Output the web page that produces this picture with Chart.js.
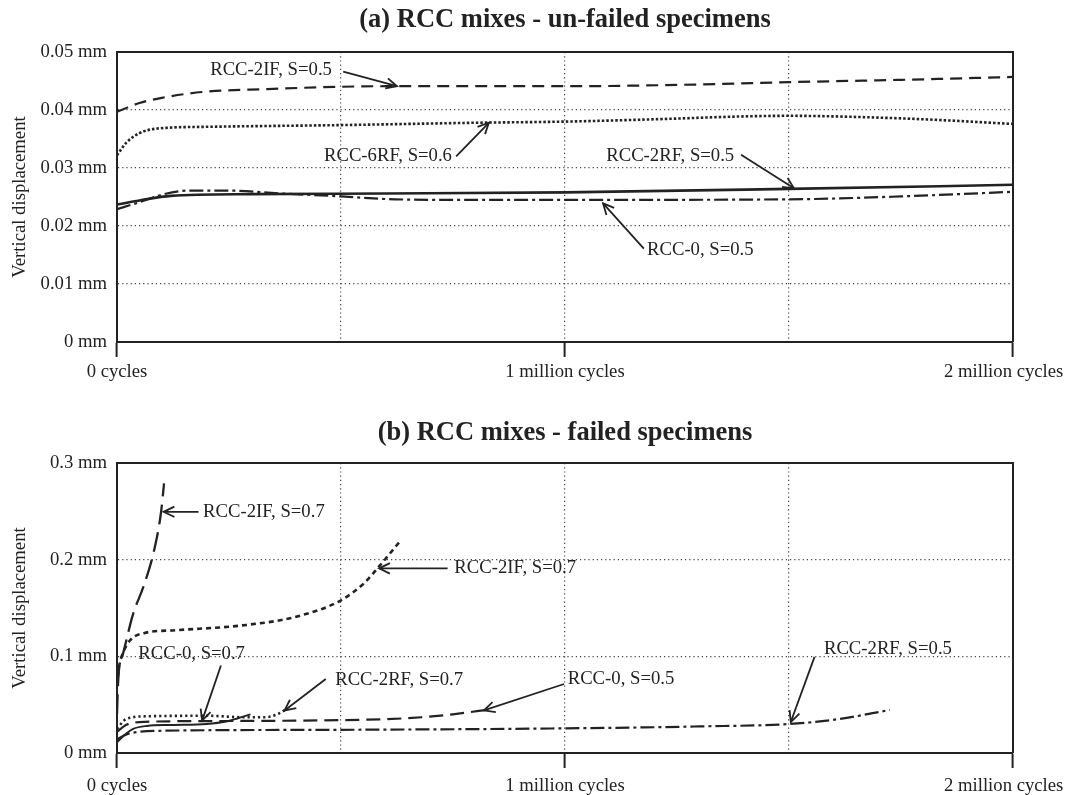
<!DOCTYPE html>
<html><head><meta charset="utf-8">
<script src="https://cdn.jsdelivr.net/npm/chart.js@4.4.1/dist/chart.umd.min.js"></script>
<style>
html,body{margin:0;padding:0;background:#fff;overflow:hidden;width:1070px;height:795px;}
.panel{position:absolute;left:0;width:1130px;height:395px;}
canvas{display:block;}
#pa{top:0;} #pb{top:400px;}
</style></head><body>
<div class="panel" id="pa"><canvas id="ca" width="1130" height="395"></canvas></div>
<div class="panel" id="pb"><canvas id="cb" width="1130" height="395"></canvas></div>
<script>
// ---------- data (x in million cycles, y in mm) ----------
const xTickLabels = ['0 cycles', '', '1 million cycles', '', '2 million cycles'];
const yTickLabelsA = ['0 mm', '0.01 mm', '0.02 mm', '0.03 mm', '0.04 mm', '0.05 mm'];
const yTickLabelsB = ['0 mm', '0.1 mm', '0.2 mm', '0.3 mm'];

// Panel (a) un-failed
const a2IF_x = [0, 0.05, 0.1, 0.19, 0.33, 0.6, 1.0, 1.3, 1.5, 1.75, 2.0];
const a2IF_y = [0.0397, 0.0412, 0.0421, 0.0431, 0.0436, 0.0441, 0.0441, 0.0444, 0.0448, 0.0452, 0.0457];
const a6RF_x = [0, 0.02, 0.05, 0.09, 0.2, 0.5, 0.8, 1.0, 1.2, 1.4, 1.5, 1.6, 1.8, 2.0];
const a6RF_y = [0.0322, 0.0343, 0.0360, 0.0368, 0.0371, 0.0374, 0.0378, 0.0380, 0.0384, 0.0389, 0.0390, 0.0389, 0.0384, 0.0376];
const a2RF_x = [0, 0.05, 0.12, 0.3, 0.6, 1.0, 1.5, 2.0];
const a2RF_y = [0.0237, 0.0244, 0.0252, 0.0255, 0.0256, 0.0258, 0.0264, 0.0271];
const a0_x = [0, 0.05, 0.1, 0.16, 0.25, 0.37, 0.5, 0.62, 0.8, 1.0, 1.5, 1.75, 2.0];
const a0_y = [0.0229, 0.0241, 0.0254, 0.0261, 0.0261, 0.0256, 0.0251, 0.0246, 0.0245, 0.0245, 0.0246, 0.0251, 0.0259];

// Panel (b) failed
const b2IFa_x = [0, 0.002, 0.005, 0.013, 0.036, 0.059, 0.083, 0.098, 0.105];
const b2IFa_y = [0.04, 0.068, 0.089, 0.102, 0.144, 0.172, 0.21, 0.248, 0.279];
const b2IFb_x = [0, 0.005, 0.012, 0.03, 0.06, 0.13, 0.28, 0.4, 0.5, 0.55, 0.585, 0.63];
const b2IFb_y = [0.07, 0.09, 0.102, 0.117, 0.124, 0.127, 0.132, 0.141, 0.158, 0.175, 0.193, 0.218];
const b0s7_x = [0, 0.02, 0.036, 0.067, 0.12, 0.2, 0.243, 0.27, 0.298];
const b0s7_y = [0.011, 0.020, 0.025, 0.028, 0.029, 0.030, 0.0325, 0.036, 0.040];
const b2RFs7_x = [0, 0.02, 0.067, 0.205, 0.28, 0.33, 0.358, 0.38];
const b2RFs7_y = [0.025, 0.035, 0.038, 0.0385, 0.037, 0.037, 0.040, 0.046];
const b0s5_x = [0, 0.02, 0.05, 0.2, 0.5, 0.6, 0.68, 0.75, 0.83];
const b0s5_y = [0.022, 0.029, 0.032, 0.033, 0.034, 0.035, 0.037, 0.040, 0.045];
const b2RFs5_x = [0, 0.02, 0.05, 0.1, 0.5, 1.0, 1.3, 1.5, 1.61, 1.725];
const b2RFs5_y = [0.014, 0.019, 0.022, 0.023, 0.024, 0.0255, 0.0275, 0.030, 0.035, 0.0445];

// annotation labels
const annLabelsA = ['RCC-2IF, S=0.5', 'RCC-6RF, S=0.6', 'RCC-2RF, S=0.5', 'RCC-0, S=0.5'];
const annLabelsB = ['RCC-2IF, S=0.7', 'RCC-2IF, S=0.7', 'RCC-0, S=0.7', 'RCC-2RF, S=0.7', 'RCC-0, S=0.5', 'RCC-2RF, S=0.5'];

// ---------- styling / layout ----------
const INK = '#222';
const GRID = '#444';
const SERIF = "'Liberation Serif', 'Times New Roman', serif";
const FS = 18.7;

const annPosA = [
  {t:[0.208, 0.0469], a:[0.505, 0.0466], b:[0.625, 0.0441]},
  {t:[0.462, 0.0320], a:[0.757, 0.0320], b:[0.830, 0.0378]},
  {t:[1.092, 0.0320], a:[1.393, 0.0323], b:[1.511, 0.0265]},
  {t:[1.183, 0.0159], a:[1.176, 0.0161], b:[1.085, 0.0239]}
];
const annPosB = [
  {t:[0.192, 0.2495], a:[0.182, 0.2495], b:[0.104, 0.2495]},
  {t:[0.753, 0.191], a:[0.738, 0.191], b:[0.585, 0.191]},
  {t:[0.0476, 0.1025], a:[0.232, 0.0906], b:[0.190, 0.0335]},
  {t:[0.487, 0.0755], a:[0.466, 0.0766], b:[0.374, 0.044]},
  {t:[1.006, 0.0766], a:[0.998, 0.0714], b:[0.819, 0.044]},
  {t:[1.578, 0.1077], a:[1.557, 0.0994], b:[1.504, 0.032]}
];

function pts(xs, ys){ return xs.map((x,i)=>({x:x, y:ys[i]})); }
function ds(xs, ys, dash, width){
  return {data: pts(xs, ys), borderColor: INK, borderWidth: width, borderDash: dash,
    borderCapStyle: 'butt', pointRadius: 0, fill: false, cubicInterpolationMode: 'monotone'};
}

const framePlugin = {
  id: 'frame',
  afterDraw(chart){
    const {ctx, chartArea: c} = chart;
    ctx.save();
    ctx.strokeStyle = INK; ctx.lineWidth = 2;
    ctx.beginPath();
    ctx.moveTo(c.left - 1, c.top); ctx.lineTo(c.right, c.top); ctx.lineTo(c.right, c.bottom);
    ctx.stroke();
    ctx.restore();
  }
};

const annPlugin = {
  id: 'ann',
  afterDatasetsDraw(chart, args, opts){
    const {ctx} = chart;
    const xs = chart.scales.x, ys = chart.scales.y;
    ctx.save();
    ctx.font = FS + 'px ' + SERIF;
    ctx.fillStyle = INK; ctx.strokeStyle = INK; ctx.lineWidth = 1.8;
    ctx.textAlign = 'left'; ctx.textBaseline = 'middle';
    opts.pos.forEach((p, i) => {
      ctx.fillText(opts.labels[i], xs.getPixelForValue(p.t[0]), ys.getPixelForValue(p.t[1]));
      const x1 = xs.getPixelForValue(p.a[0]), y1 = ys.getPixelForValue(p.a[1]);
      const x2 = xs.getPixelForValue(p.b[0]), y2 = ys.getPixelForValue(p.b[1]);
      ctx.beginPath(); ctx.moveTo(x1, y1); ctx.lineTo(x2, y2); ctx.stroke();
      const ang = Math.atan2(y2 - y1, x2 - x1), L = 12, w = 0.45;
      ctx.beginPath();
      ctx.moveTo(x2 - L*Math.cos(ang - w), y2 - L*Math.sin(ang - w));
      ctx.lineTo(x2, y2);
      ctx.lineTo(x2 - L*Math.cos(ang + w), y2 - L*Math.sin(ang + w));
      ctx.stroke();
    });
    ctx.restore();
  }
};

function makeChart(id, cfg){
  const nY = cfg.yLabels.length;
  return new Chart(document.getElementById(id), {
    type: 'line',
    data: {datasets: cfg.datasets},
    plugins: [framePlugin, annPlugin],
    options: {
      responsive: false, animation: false, devicePixelRatio: 1,
      layout: {padding: {left: 0, right: 117, top: 0, bottom: 0}},
      plugins: {
        legend: {display: false}, tooltip: {enabled: false},
        title: {display: true, text: cfg.title, color: INK, fullSize: false,
          font: {family: SERIF, size: 26.5, weight: 'bold'},
          padding: {top: cfg.titleTop, bottom: cfg.titleBottom}},
        ann: {labels: cfg.annLabels, pos: cfg.annPos}
      },
      scales: {
        x: {
          type: 'linear', min: 0, max: 2,
          afterFit(s){ s.height = cfg.xHeight; },
          ticks: {stepSize: 0.5, autoSkip: false, maxRotation: 0, color: INK, padding: cfg.xPad,
            font: {family: SERIF, size: FS},
            callback: (v, i) => i === 4 ? xTickLabels[i] + '\u00a0\u00a0\u00a0\u00a0' : xTickLabels[i]},
          grid: {
            color: (c) => (c.index >= 1 && c.index <= 3) ? GRID : 'rgba(0,0,0,0)',
            lineWidth: 1.2, drawTicks: true, tickLength: 15, tickWidth: 2,
            tickColor: (c) => (c.index % 2 === 0) ? INK : 'rgba(0,0,0,0)'
          },
          border: {display: true, color: INK, width: 2, dash: [1.2, 3]}
        },
        y: {
          type: 'linear', min: 0, max: cfg.yMax,
          afterFit(s){ s.width = 117; },
          ticks: {stepSize: cfg.yStep, color: INK, padding: 10,
            font: {family: SERIF, size: FS},
            callback: (v, i) => cfg.yLabels[i]},
          grid: {
            color: (c) => (c.index > 0 && c.index < nY - 1) ? GRID : 'rgba(0,0,0,0)',
            lineWidth: 1.2, drawTicks: false
          },
          border: {display: true, color: INK, width: 2, dash: [1.2, 3]},
          title: {display: true, text: 'Vertical displacement', color: INK,
            font: {family: SERIF, size: FS}, padding: {top: 9, bottom: 0}}
        }
      }
    }
  });
}

makeChart('ca', {
  title: '(a) RCC mixes - un-failed specimens',
  titleTop: 4.1, titleBottom: 16.1, xHeight: 53, xPad: 4,
  yMax: 0.05, yStep: 0.01, yLabels: yTickLabelsA,
  annLabels: annLabelsA, annPos: annPosA,
  datasets: [
    ds(a2IF_x, a2IF_y, [12, 7], 2.2),
    ds(a6RF_x, a6RF_y, [2.5, 2], 2.6),
    ds(a2RF_x, a2RF_y, [], 2.6),
    ds(a0_x, a0_y, [14, 4, 3, 4], 2.2)
  ]
});

makeChart('cb', {
  title: '(b) RCC mixes - failed specimens',
  titleTop: 17.5, titleBottom: 13.7, xHeight: 42, xPad: 7,
  yMax: 0.3, yStep: 0.1, yLabels: yTickLabelsB,
  annLabels: annLabelsB, annPos: annPosB,
  datasets: [
    ds(b2IFa_x, b2IFa_y, [20, 8], 2.3),
    ds(b2IFb_x, b2IFb_y, [5, 4], 2.6),
    ds(b0s7_x, b0s7_y, [], 2.0),
    ds(b2RFs7_x, b2RFs7_y, [2.2, 3], 2.6),
    ds(b0s5_x, b0s5_y, [14, 7], 2.2),
    ds(b2RFs5_x, b2RFs5_y, [14, 4, 3, 4], 2.2)
  ]
});
</script></body></html>
